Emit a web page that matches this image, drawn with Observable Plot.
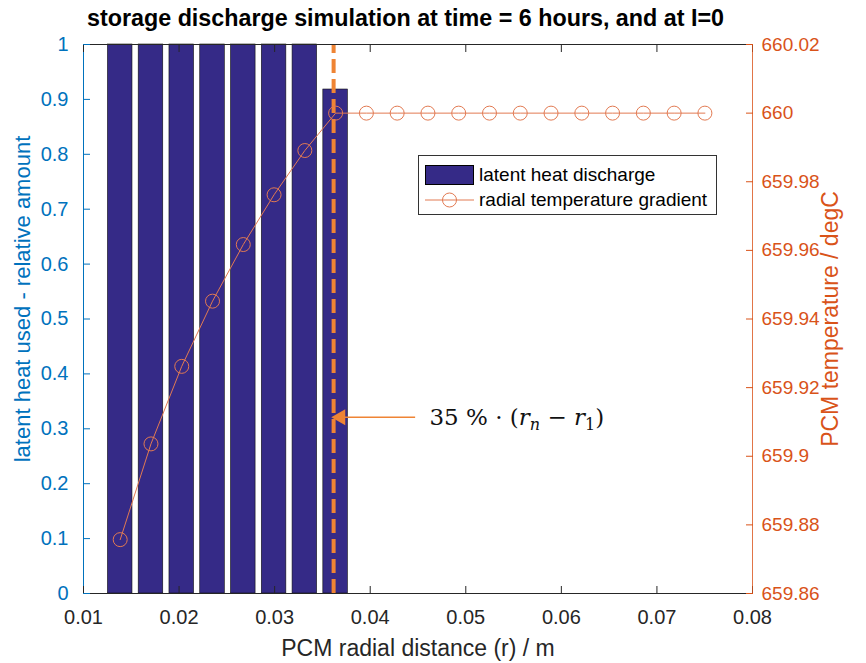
<!DOCTYPE html>
<html>
<head>
<meta charset="utf-8">
<script src="https://cdn.jsdelivr.net/npm/d3@7"></script>
<script src="https://cdn.jsdelivr.net/npm/@observablehq/plot@0.6"></script>
<style>
  body { margin: 0; background: white; }
  #wrap { position: relative; width: 866px; height: 663px; font-family: "Liberation Sans", Arial, sans-serif; }
  #wrap svg { position: absolute; left: 0; top: 0; }
  #title { position: absolute; left: 87px; top: 5px; font-weight: bold; font-size: 23.3px; color: #000; white-space: nowrap; }
  #legend { position: absolute; left: 418px; top: 155px; width: 297px; height: 58px; border: 1px solid #333; background: white; font-size: 19px; color: #000; }
  .lrow { position: absolute; left: 6px; height: 22px; display: flex; align-items: center; }
  .lrow span { margin-left: 5px; white-space: nowrap; }
</style>
</head>
<body>
<div id="wrap">
  <div id="title">storage discharge simulation at time = 6 hours, and at I=0</div>
</div>
<script>
// ---- data ----
const radius = [0.01384, 0.01706, 0.02028, 0.0235, 0.02672, 0.02994, 0.03316, 0.03638, 0.0396, 0.04282,
                0.04604, 0.04926, 0.05248, 0.0557, 0.05892, 0.06214, 0.06536, 0.06858, 0.0718, 0.07502];
const latentUsed = [1, 1, 1, 1, 1, 1, 1, 0.918, 0, 0, 0, 0, 0, 0, 0, 0, 0, 0, 0, 0];
const temperature = [659.8757, 659.9036, 659.9262, 659.9452, 659.9617, 659.9762, 659.9891, 660.0, 660.0, 660.0,
                     660.0, 660.0, 660.0, 660.0, 660.0, 660.0, 660.0, 660.0, 660.0, 660.0];
const xTicks = [0.01, 0.02, 0.03, 0.04, 0.05, 0.06, 0.07, 0.08];
const yLeftTicks = [0, 0.1, 0.2, 0.3, 0.4, 0.5, 0.6, 0.7, 0.8, 0.9, 1];
const yRightTicks = [659.86, 659.88, 659.9, 659.92, 659.94, 659.96, 659.98, 660, 660.02];
const marker35 = [0.03617];
const annotation = [{x1: 0.0447, x2: 0.0366, tip: 0.0369, y: 0.321, tx: 0.0462, label: "35 % · (rₙ − r₁)"}];
const seriesNames = ["latent heat discharge", "radial temperature gradient"];
const labels = {x: "PCM radial distance (r) / m", yLeft: "latent heat used - relative amount", yRight: "PCM temperature / degC"};

// ---- styles ----
const BAR = "#352A87", BLUE = "#0072BD", ORANGE = "#D95319", LINEC = "#E27A52", DASH = "#EF8434", AX = "#262626";
const barWidth = 0.00257;
const W = 866, H = 663;
const margins = {marginLeft: 83, marginRight: 114, marginTop: 44, marginBottom: 70};
const font = {fontFamily: "'Liberation Sans', Arial, sans-serif", fontSize: "20px", background: "transparent", overflow: "visible"};

const bars = radius.map((r, i) => ({r, v: latentUsed[i]})).filter(d => d.v > 0);
const temps = radius.map((r, i) => ({r, t: temperature[i]}));

const p1 = Plot.plot({
  width: W, height: H, ...margins,
  style: {...font, background: "white"},
  x: {domain: [0.01, 0.08]},
  y: {domain: [0, 1]},
  marks: [
    Plot.rectY(bars, {x1: d => d.r - barWidth / 2, x2: d => d.r + barWidth / 2, y: "v", fill: BAR, stroke: "#111", strokeWidth: 0.6}),
    Plot.ruleX(marker35, {y1: 0, y2: 1, stroke: DASH, strokeWidth: 4, strokeDasharray: "14,6"}),
    Plot.link(annotation, {x1: "x1", x2: "x2", y1: "y", y2: "y", stroke: DASH, strokeWidth: 1.6}),
    Plot.dot(annotation, {x: "tip", y: "y", symbol: "triangle", rotate: -90, r: 6, fill: DASH, stroke: null}),
    Plot.text(annotation, {x: "tx", y: "y", text: "label", textAnchor: "start", lineAnchor: "middle",
      fontFamily: "'DejaVu Serif', serif", fontSize: 23, fill: "#111"}),
    Plot.ruleY([0], {stroke: AX}),
    Plot.ruleY([1], {stroke: AX}),
    Plot.ruleX([0.01], {stroke: BLUE}),
    Plot.axisX({ticks: xTicks, tickSize: -7, tickPadding: 23, tickFormat: d => String(d), label: null, stroke: AX, fill: AX}),
    Plot.axisX({anchor: "top", ticks: xTicks, tickSize: -7, tickFormat: () => "", label: null, stroke: AX}),
    Plot.axisY({ticks: yLeftTicks, tickSize: -7, tickPadding: 22, tickFormat: d => String(d), label: null, stroke: BLUE, fill: BLUE}),
    Plot.text([labels.yLeft], {frameAnchor: "left", dx: -61, dy: -20, rotate: -90, textAnchor: "middle", lineAnchor: "middle", text: d => d, fill: BLUE, fontSize: 22}),
    Plot.text([labels.x], {frameAnchor: "bottom", dy: 55, textAnchor: "middle", lineAnchor: "middle", text: d => d, fill: AX, fontSize: 23})
  ]
});

const p2 = Plot.plot({
  width: W, height: H, ...margins,
  style: font,
  x: {domain: [0.01, 0.08], axis: null},
  y: {domain: [659.86, 660.02], axis: null},
  marks: [
    Plot.line(temps, {x: "r", y: "t", stroke: LINEC, strokeWidth: 1}),
    Plot.dot(temps, {x: "r", y: "t", r: 7, stroke: LINEC, strokeWidth: 1, fill: "none"}),
    Plot.ruleX([0.08], {stroke: ORANGE, strokeOpacity: 0.8}),
    Plot.axisY({anchor: "right", ticks: yRightTicks, tickSize: -7, tickPadding: 16, tickFormat: d => String(d), label: null, stroke: ORANGE, fill: ORANGE, fontSize: 19}),
    Plot.text([labels.yRight], {frameAnchor: "right", dx: 78, rotate: -90, textAnchor: "middle", lineAnchor: "middle", text: d => d, fill: ORANGE, fontSize: 23})
  ]
});
p2.style.pointerEvents = "none";

const wrap = document.getElementById("wrap");
wrap.insertBefore(p1, wrap.firstChild);
wrap.insertBefore(p2, document.getElementById("title"));

// rich annotation text (math style with subscripts)
d3.select(p1).selectAll("text").filter(function() { return this.textContent === annotation[0].label; }).each(function() {
  const t = d3.select(this);
  t.text(null);
  t.append("tspan").text("35 % · (");
  t.append("tspan").attr("font-style", "italic").text("r");
  t.append("tspan").attr("font-size", "16").attr("font-style", "italic").attr("dy", "5").text("n");
  t.append("tspan").attr("dy", "-5").text(" − ");
  t.append("tspan").attr("font-style", "italic").text("r");
  t.append("tspan").attr("font-size", "16").attr("dy", "5").text("1");
  t.append("tspan").attr("dy", "-5").text(")");
});

// legend
const legend = document.createElement("div");
legend.id = "legend";
legend.innerHTML = `
  <div class="lrow" style="top:8px"><svg width="49" height="20" style="position:static"><rect x="0.5" y="0.5" width="48" height="19" fill="${BAR}" stroke="#000"/></svg><span>${seriesNames[0]}</span></div>
  <div class="lrow" style="top:33px"><svg width="49" height="20" style="position:static"><line x1="0" x2="49" y1="10" y2="10" stroke="${LINEC}"/><circle cx="24.5" cy="10" r="7" fill="none" stroke="${LINEC}"/></svg><span>${seriesNames[1]}</span></div>`;
wrap.appendChild(legend);
</script>
</body>
</html>
